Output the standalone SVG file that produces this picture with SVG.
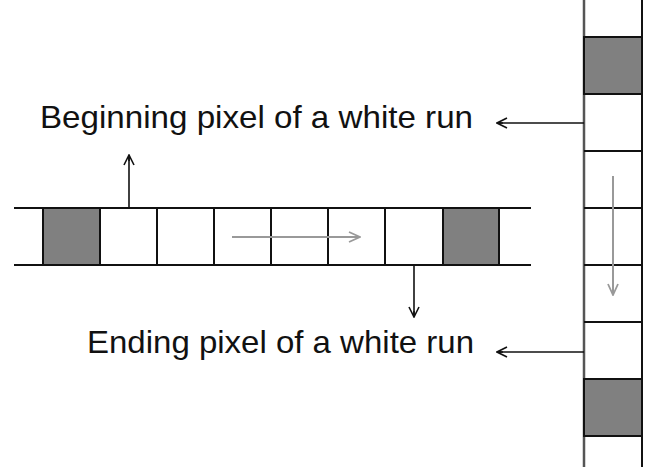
<svg xmlns="http://www.w3.org/2000/svg" width="645" height="467" viewBox="0 0 645 467">
<style>
.ln{stroke:#111;stroke-width:2;fill:none}
.gc{fill:#808080;stroke:#111;stroke-width:2}
.wc{fill:#fff;stroke:#111;stroke-width:2}
.ar{stroke:#111;stroke-width:1.6;fill:none}
.ga{stroke:#999;stroke-width:2;fill:none}
.t{font-family:"Liberation Sans",Arial,sans-serif;font-size:32px;fill:#111}
</style>
<defs>
<marker id="mb" viewBox="0 0 12 12" refX="11" refY="6" markerWidth="12" markerHeight="12" markerUnits="userSpaceOnUse" orient="auto">
<path d="M1,1 L11,6 L1,11 M5,6 L11,6" stroke="#111" stroke-width="1.6" fill="none"/>
</marker>
<marker id="mg" viewBox="0 0 14 14" refX="13" refY="7" markerWidth="14" markerHeight="14" markerUnits="userSpaceOnUse" orient="auto">
<path d="M2,2 L13,7 L2,12" stroke="#999" stroke-width="1.8" fill="none"/>
</marker>
</defs>
<rect width="645" height="467" fill="#fff"/>
<g id="hstrip">
<line class="ln" x1="14" y1="208" x2="531" y2="208"/>
<line class="ln" x1="14" y1="265" x2="531" y2="265"/>
<rect class="gc" x="43" y="208" width="57" height="57"/>
<rect class="gc" x="443" y="208" width="56" height="57"/>
<line class="ln" x1="157" y1="208" x2="157" y2="265"/>
<line class="ln" x1="214" y1="208" x2="214" y2="265"/>
<line class="ln" x1="271" y1="208" x2="271" y2="265"/>
<line class="ln" x1="328" y1="208" x2="328" y2="265"/>
<line class="ln" x1="385" y1="208" x2="385" y2="265"/>
</g>
<g id="vstrip">
<line x1="584" y1="0" x2="584" y2="467" stroke="#555" stroke-width="2.5"/>
<line class="ln" x1="642" y1="0" x2="642" y2="467"/>
<rect class="gc" x="584" y="37" width="58" height="57"/>
<rect class="gc" x="584" y="379" width="58" height="57"/>
<line class="ln" x1="584" y1="151" x2="642" y2="151"/>
<line class="ln" x1="584" y1="208" x2="642" y2="208"/>
<line class="ln" x1="584" y1="265" x2="642" y2="265"/>
<line class="ln" x1="584" y1="322" x2="642" y2="322"/>
</g>
<g id="label-begin"><text class="t" x="40" y="128" textLength="433" lengthAdjust="spacingAndGlyphs">Beginning pixel of a white run</text></g>
<g id="label-end"><text class="t" x="87" y="353" textLength="387" lengthAdjust="spacingAndGlyphs">Ending pixel of a white run</text></g>
<g id="connectors">
<line class="ar" x1="129" y1="208" x2="129" y2="155" marker-end="url(#mb)"/>
<line class="ar" x1="414" y1="265" x2="414" y2="317" marker-end="url(#mb)"/>
<line class="ar" x1="584" y1="123" x2="497" y2="123" marker-end="url(#mb)"/>
<line class="ar" x1="584" y1="352" x2="497" y2="352" marker-end="url(#mb)"/>
<line class="ga" x1="232" y1="237" x2="360" y2="237" marker-end="url(#mg)"/>
<line class="ga" x1="613" y1="176" x2="613" y2="295" marker-end="url(#mg)"/>
</g>
</svg>
